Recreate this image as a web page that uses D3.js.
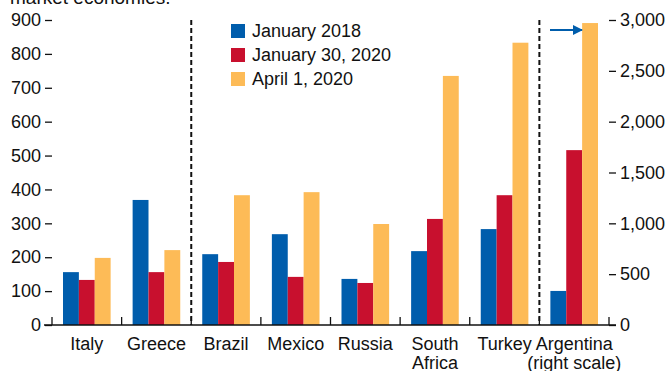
<!DOCTYPE html>
<html>
<head>
<meta charset="utf-8">
<script src="https://cdn.jsdelivr.net/npm/d3@7"></script>
<style>
  body { margin: 0; background: #fff; }
  text { font-family: "Liberation Sans Narrow", "Arial Narrow", "Liberation Sans", sans-serif; fill: #111; }
</style>
</head>
<body>
<div id="main"></div>
<script>
// data
const countries = ["Italy", "Greece", "Brazil", "Mexico", "Russia", "South Africa", "Turkey", "Argentina"]
const countryLabels = [["Italy"], ["Greece"], ["Brazil"], ["Mexico"], ["Russia"], ["South", "Africa"], ["Turkey"], ["Argentina", "(right scale)"]]
const seriesNames = ["January 2018", "January 30, 2020", "April 1, 2020"]
const jan2018 = [156, 369, 209, 268, 136, 218, 283, 335]
const jan2020 = [133, 156, 186, 142, 124, 313, 383, 1720]
const apr2020 = [198, 221, 383, 392, 298, 735, 833, 2970]
const leftTicks = [0, 100, 200, 300, 400, 500, 600, 700, 800, 900]
const rightTicks = [0, 500, 1000, 1500, 2000, 2500, 3000]
const colors = ["#005dac", "#c8102e", "#fdbb57"]

const width = 669, height = 371

const svg = d3.select("#main")
    .append("svg")
    .attr("width", width)
    .attr("height", height)

const x = d3.scaleBand()
    .domain(countries)
    .range([52, 609])
    .padding(0)

const x1 = d3.scaleBand()
    .domain(seriesNames)
    .range([11, x.bandwidth() - 11])
    .padding(0)

const yLeft = d3.scaleLinear().domain([0, 900]).range([325, 20])
const yRight = d3.scaleLinear().domain([0, 3000]).range([325, 20])

// cropped heading at the very top
svg.append("text")
    .attr("x", 10)
    .attr("y", 4)
    .style("font-size", "19px")
    .text("market economies.")

// bars
const rows = countries.map((c, i) => ({
    country: c,
    values: [jan2018[i], jan2020[i], apr2020[i]]
}))

const groups = svg.selectAll(".grp")
    .data(rows)
    .join("g")
    .attr("class", "grp")
    .attr("transform", d => `translate(${x(d.country)},0)`)

groups.selectAll("rect")
    .data(d => d.values.map((v, j) => ({ s: seriesNames[j], v: v, j: j, right: d.country === "Argentina" })))
    .join("rect")
    .attr("x", d => x1(d.s))
    .attr("width", x1.bandwidth())
    .attr("y", d => d.right ? yRight(d.v) : yLeft(d.v))
    .attr("height", d => d.right ? 325 - yRight(d.v) : 325 - yLeft(d.v))
    .attr("fill", d => colors[d.j])

// left axis
const leftAxis = svg.append("g")
    .attr("transform", "translate(52,0)")
    .call(d3.axisLeft(yLeft).tickValues(leftTicks).tickSize(7).tickPadding(4).tickFormat(d3.format("d")))
leftAxis.select(".domain").remove()
leftAxis.selectAll("line").attr("stroke", "#111").attr("stroke-width", 1.3)
leftAxis.selectAll("text").style("font-size", "18px").attr("fill", "#111")
    .style("font-family", "'Liberation Sans Narrow', 'Arial Narrow', sans-serif")

// right axis
const rightAxis = svg.append("g")
    .attr("transform", "translate(609,0)")
    .call(d3.axisRight(yRight).tickValues(rightTicks).tickSize(7).tickPadding(4).tickFormat(d3.format(",")))
rightAxis.select(".domain").remove()
rightAxis.selectAll("line").attr("stroke", "#111").attr("stroke-width", 1.3)
rightAxis.selectAll("text").style("font-size", "18px").attr("fill", "#111")
    .style("font-family", "'Liberation Sans Narrow', 'Arial Narrow', sans-serif")

// x axis baseline + boundary ticks
svg.append("line")
    .attr("x1", 44).attr("x2", 616)
    .attr("y1", 325).attr("y2", 325)
    .attr("stroke", "#111").attr("stroke-width", 1.5)

const bounds = countries.map(c => x(c)).concat([x.range()[1]])
svg.selectAll(".btick")
    .data(bounds)
    .join("line")
    .attr("class", "btick")
    .attr("x1", d => d).attr("x2", d => d)
    .attr("y1", 325).attr("y2", 317)
    .attr("stroke", "#111").attr("stroke-width", 1.3)

// category labels
const labels = svg.selectAll(".clab")
    .data(countryLabels)
    .join("text")
    .attr("class", "clab")
    .attr("text-anchor", "middle")
    .style("font-size", "18px")
    .attr("x", (d, i) => x(countries[i]) + x.bandwidth() / 2)
    .attr("y", 350)

labels.selectAll("tspan")
    .data(d => d)
    .join("tspan")
    .attr("x", function () { return this.parentNode.getAttribute("x") })
    .attr("dy", (d, k) => k === 0 ? 0 : 19)
    .text(d => d)

// dashed separators
const seps = [x("Brazil"), x("Argentina")]
svg.selectAll(".sep")
    .data(seps)
    .join("line")
    .attr("class", "sep")
    .attr("x1", d => d).attr("x2", d => d)
    .attr("y1", 20).attr("y2", 325)
    .attr("stroke", "#111")
    .attr("stroke-width", 2)
    .attr("stroke-dasharray", "5,3")

// legend
const legend = svg.append("g").attr("transform", "translate(231,24)")
seriesNames.forEach((name, i) => {
    legend.append("rect")
        .attr("x", 0).attr("y", i * 24)
        .attr("width", 14).attr("height", 14)
        .attr("fill", colors[i])
    legend.append("text")
        .attr("x", 21).attr("y", i * 24 + 13)
        .style("font-size", "18px")
        .text(name)
})

// arrow pointing to right scale
svg.append("defs").append("marker")
    .attr("id", "arrowhead")
    .attr("viewBox", "0 0 10 10")
    .attr("refX", 9).attr("refY", 5)
    .attr("markerWidth", 5).attr("markerHeight", 5)
    .attr("orient", "auto")
    .append("path")
    .attr("d", "M0,0 L10,5 L0,10 z")
    .attr("fill", "#005dac")

svg.append("line")
    .attr("x1", 550).attr("x2", 582)
    .attr("y1", 30).attr("y2", 30)
    .attr("stroke", "#005dac")
    .attr("stroke-width", 2)
    .attr("marker-end", "url(#arrowhead)")
</script>
</body>
</html>
